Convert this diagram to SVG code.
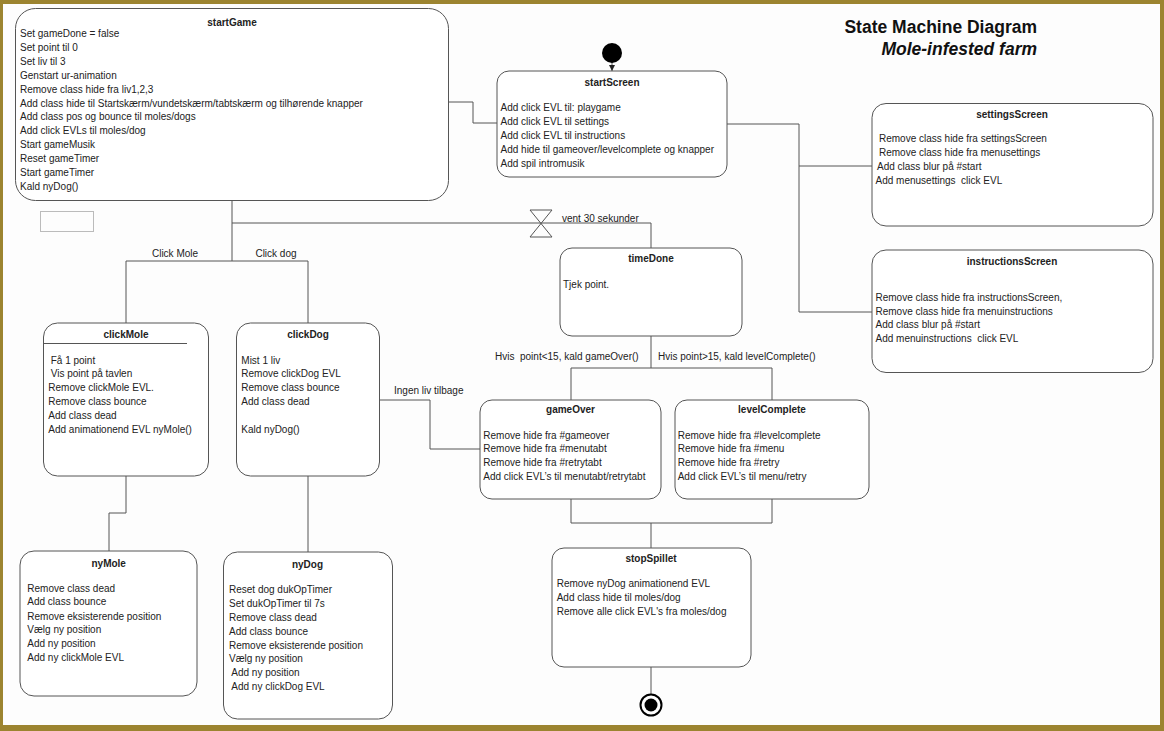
<svg xmlns="http://www.w3.org/2000/svg" width="1164" height="731" viewBox="0 0 1164 731">
<defs>
<style>
.box{fill:#fff;stroke:#555;stroke-width:1}
.ln{fill:none;stroke:#555;stroke-width:1}
.t{font-family:"Liberation Sans",Arial,sans-serif;font-size:10px;fill:#222}
.h{font-family:"Liberation Sans",Arial,sans-serif;font-size:10px;font-weight:bold;fill:#222;text-anchor:middle}
.title{font-family:"Liberation Sans",Arial,sans-serif;font-size:17.5px;font-weight:bold;fill:#111;text-anchor:end}
</style>
<marker id="arr" viewBox="0 0 6 6" refX="6" refY="3" markerWidth="6" markerHeight="6" orient="auto">
<path d="M0,0 L6,3 L0,6 Z" fill="#222"/>
</marker>
</defs>
<rect x="0" y="0" width="1164" height="731" fill="#9c8430"/>
<rect x="3" y="4" width="1157" height="721" fill="#fdfdfd"/>

<g id="title">
<text class="title" x="1037" y="33">State Machine Diagram</text>
<text class="title" x="1037" y="55" font-style="italic">Mole-infested farm</text>
</g>

<g id="connectors">
<path class="ln" d="M448,102 H473 V123 H497"/>
<path class="ln" d="M727,124 H799 V312 H872 M799,166 H872"/>
<path class="ln" d="M232,200 V261 M126,261 H308 M126,261 V323 M308,261 V323"/>
<path class="ln" d="M232,223 H651 V248"/>
<path class="ln" d="M530,210 H552 L530,237 H552 Z" fill="#fff"/>
<path class="ln" d="M651,336 V368 M571,368 H772 M571,368 V400 M772,368 V400"/>
<path class="ln" d="M379,400 H430 V449 H480"/>
<path class="ln" d="M571,499 V523 H772 V499 M651,523 V548"/>
<path class="ln" d="M126,476 V513 H109 V551"/>
<path class="ln" d="M308,476 V552"/>
<path class="ln" d="M651,667 V694"/>
<path class="ln" d="M612,60 V71" stroke="#222" marker-end="url(#arr)"/>
<rect x="40.5" y="211.5" width="53" height="20" fill="none" stroke="#bbb" stroke-width="1"/>
<text class="t" x="175" y="257" text-anchor="middle">Click Mole</text>
<text class="t" x="276" y="257" text-anchor="middle">Click dog</text>
<text class="t" x="562" y="222">vent 30 sekunder</text>
<text class="t" x="495" y="360" xml:space="preserve">Hvis  point&lt;15, kald gameOver()</text>
<text class="t" x="658" y="360">Hvis point&gt;15, kald levelComplete()</text>
<text class="t" x="394" y="394">Ingen liv tilbage</text>
</g>

<g id="initial">
<circle cx="612" cy="53" r="10" fill="#000"/>
</g>

<g id="final">
<circle cx="651" cy="705" r="10.5" fill="#fff" stroke="#000" stroke-width="2"/>
<circle cx="651" cy="705" r="6.5" fill="#000"/>
</g>

<g id="startGame">
<rect class="box" x="15.5" y="8.5" width="433" height="192" rx="20"/>
<text class="h" x="232" y="26">startGame</text>
<text class="t" x="20" y="37">Set gameDone = false</text>
<text class="t" x="20" y="50.9">Set point til 0</text>
<text class="t" x="20" y="64.8">Set liv til 3</text>
<text class="t" x="20" y="78.7">Genstart ur-animation</text>
<text class="t" x="20" y="92.6">Remove class hide fra liv1,2,3</text>
<text class="t" x="20" y="106.5">Add class hide til Startskærm/vundetskærm/tabtskærm og tilhørende knapper</text>
<text class="t" x="20" y="120.4">Add class pos og bounce til moles/dogs</text>
<text class="t" x="20" y="134.3">Add click EVLs til moles/dog</text>
<text class="t" x="20" y="148.2">Start gameMusik</text>
<text class="t" x="20" y="162.1">Reset gameTimer</text>
<text class="t" x="20" y="176">Start gameTimer</text>
<text class="t" x="20" y="189.9">Kald nyDog()</text>
</g>

<g id="startScreen">
<rect class="box" x="497" y="71" width="230" height="106" rx="12"/>
<text class="h" x="612" y="86">startScreen</text>
<text class="t" x="500.5" y="111">Add click EVL til: playgame</text>
<text class="t" x="500.5" y="125">Add click EVL til settings</text>
<text class="t" x="500.5" y="139">Add click EVL til instructions</text>
<text class="t" x="500.5" y="153">Add hide til gameover/levelcomplete og knapper</text>
<text class="t" x="500.5" y="167">Add spil intromusik</text>
</g>

<g id="settingsScreen">
<rect class="box" x="872" y="103.5" width="281" height="122.5" rx="14"/>
<text class="h" x="1012" y="118">settingsScreen</text>
<text class="t" x="879" y="142">Remove class hide fra settingsScreen</text>
<text class="t" x="879" y="156">Remove class hide fra menusettings</text>
<text class="t" x="877" y="170">Add class blur på #start</text>
<text class="t" x="875.5" y="184" xml:space="preserve">Add menusettings  click EVL</text>
</g>

<g id="instructionsScreen">
<rect class="box" x="872" y="250" width="281" height="122.5" rx="14"/>
<text class="h" x="1012" y="264.5">instructionsScreen</text>
<text class="t" x="875.5" y="301">Remove class hide fra instructionsScreen,</text>
<text class="t" x="875.5" y="314.5">Remove class hide fra menuinstructions</text>
<text class="t" x="875.5" y="328">Add class blur på #start</text>
<text class="t" x="875.5" y="342" xml:space="preserve">Add menuinstructions  click EVL</text>
</g>

<g id="timeDone">
<rect class="box" x="560" y="248" width="182" height="88" rx="12"/>
<text class="h" x="651" y="262">timeDone</text>
<text class="t" x="563" y="288">Tjek point.</text>
</g>

<g id="clickMole">
<rect class="box" x="43.5" y="323" width="165" height="153" rx="14"/>
<text class="h" x="126" y="338">clickMole</text>
<line class="ln" x1="43.5" y1="343.5" x2="187" y2="343.5"/>
<text class="t" x="50.7" y="363.5">Få 1 point</text>
<text class="t" x="50.7" y="377">Vis point på tavlen</text>
<text class="t" x="48.3" y="391">Remove clickMole EVL.</text>
<text class="t" x="48.3" y="404.5">Remove class bounce</text>
<text class="t" x="48.3" y="419">Add class dead</text>
<text class="t" x="48.3" y="432.5">Add animationend EVL nyMole()</text>
</g>

<g id="clickDog">
<rect class="box" x="236.5" y="323" width="143" height="153" rx="14"/>
<text class="h" x="308" y="338">clickDog</text>
<text class="t" x="241.3" y="363.5">Mist 1 liv</text>
<text class="t" x="241.3" y="377">Remove clickDog EVL</text>
<text class="t" x="241.3" y="391">Remove class bounce</text>
<text class="t" x="241.3" y="404.5">Add class dead</text>
<text class="t" x="241.3" y="432.5">Kald nyDog()</text>
</g>

<g id="gameOver">
<rect class="box" x="480" y="400" width="181" height="99" rx="12"/>
<text class="h" x="570.5" y="413">gameOver</text>
<text class="t" x="483.3" y="438.5">Remove hide fra #gameover</text>
<text class="t" x="483.3" y="452.2">Remove hide fra #menutabt</text>
<text class="t" x="483.3" y="466.2">Remove hide fra #retrytabt</text>
<text class="t" x="483.3" y="480.2">Add click EVL’s til menutabt/retrytabt</text>
</g>

<g id="levelComplete">
<rect class="box" x="675" y="400" width="194" height="99" rx="12"/>
<text class="h" x="772" y="413">levelComplete</text>
<text class="t" x="677.7" y="438.5">Remove hide fra #levelcomplete</text>
<text class="t" x="677.7" y="452.2">Remove hide fra #menu</text>
<text class="t" x="677.7" y="466.2">Remove hide fra #retry</text>
<text class="t" x="677.7" y="480.2">Add click EVL’s til menu/retry</text>
</g>

<g id="stopSpillet">
<rect class="box" x="552" y="548" width="199" height="119" rx="12"/>
<text class="h" x="651" y="562">stopSpillet</text>
<text class="t" x="556.7" y="587">Remove nyDog animationend EVL</text>
<text class="t" x="556.7" y="601">Add class hide til moles/dog</text>
<text class="t" x="556.7" y="615">Remove alle click EVL's fra moles/dog</text>
</g>

<g id="nyMole">
<rect class="box" x="20" y="551" width="177" height="145" rx="14"/>
<text class="h" x="108.7" y="567">nyMole</text>
<text class="t" x="27.3" y="591.5">Remove class dead</text>
<text class="t" x="27.3" y="605.2">Add class bounce</text>
<text class="t" x="27.3" y="619.5">Remove eksisterende position</text>
<text class="t" x="27.3" y="632.8">Vælg ny position</text>
<text class="t" x="27.3" y="647.2">Add ny position</text>
<text class="t" x="27.3" y="661.2">Add ny clickMole EVL</text>
</g>

<g id="nyDog">
<rect class="box" x="223.5" y="552" width="169" height="167" rx="14"/>
<text class="h" x="307.5" y="568">nyDog</text>
<text class="t" x="229" y="592.8">Reset dog dukOpTimer</text>
<text class="t" x="229" y="606.8">Set dukOpTimer til 7s</text>
<text class="t" x="229" y="620.5">Remove class dead</text>
<text class="t" x="229" y="634.5">Add class bounce</text>
<text class="t" x="229" y="648.5">Remove eksisterende position</text>
<text class="t" x="229" y="662.2">Vælg ny position</text>
<text class="t" x="231.3" y="676.2">Add ny position</text>
<text class="t" x="231.3" y="690.2">Add ny clickDog EVL</text>
</g>
</svg>
